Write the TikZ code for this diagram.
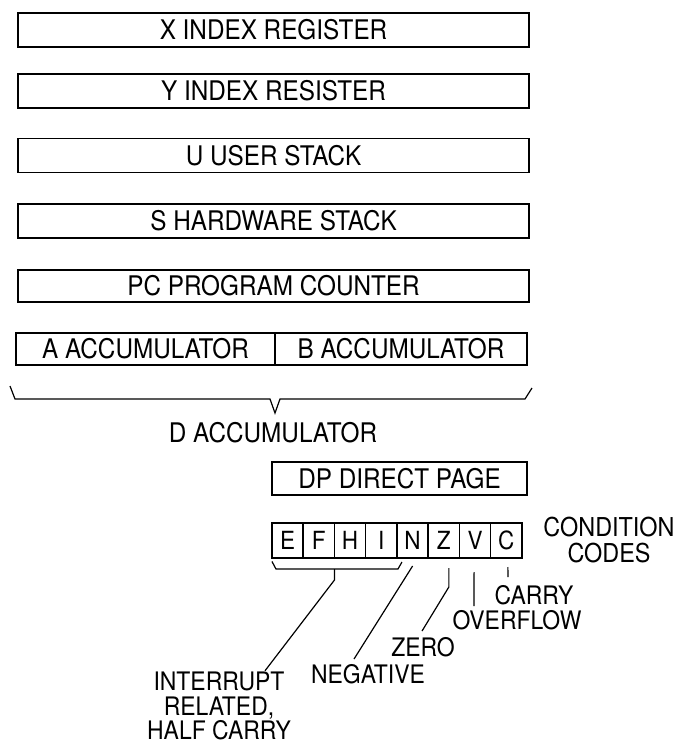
\documentclass[tikz,border=0pt]{standalone}
\usepackage{fontspec}
\setmainfont[FakeStretch=0.9]{TeX Gyre Heros}
\usetikzlibrary{positioning,calc}
\tikzset{
  regbox/.style={draw,line width=1.6pt,minimum height=34pt,inner sep=0pt,outer sep=0pt,
                 font=\fontsize{27}{29}\selectfont},
  bitbox/.style={draw,line width=1.5pt,minimum width=31.25pt,minimum height=35pt,inner sep=0pt,
                 outer sep=0pt,font=\fontsize{25}{27}\selectfont},
  lbl/.style={inner sep=0pt,align=center,font=\fontsize{25.5}{24.5}\selectfont},
  ldr/.style={line width=1.2pt},
}

\begin{document}
\begin{tikzpicture}[x=1pt,y=-1pt]
  \useasboundingbox (0,0) rectangle (679,745);
  % 16-bit registers
  \node[regbox,minimum width=511pt] (xr) at (273.5,30) {X INDEX REGISTER};
  \node[regbox,minimum width=511pt] (yr) at (273.5,91) {Y INDEX RESISTER};
  \node[regbox,minimum width=511pt] (ur) at (273.5,155.5) {U USER STACK};
  \node[regbox,minimum width=511pt] (sr) at (273.5,221) {S HARDWARE STACK};
  \node[regbox,minimum width=511pt,minimum height=32pt] (pc) at (273.5,286) {PC PROGRAM COUNTER};
  \node[regbox,minimum width=259pt,minimum height=32pt] (acca) at (145.5,349) {A ACCUMULATOR};
  \node[regbox,minimum width=252pt,minimum height=32pt,right=0pt of acca] (accb) {B ACCUMULATOR};
  % brace for D
  \draw[ldr] ($(acca.south west)+(-6,21)$) -- ($(acca.south west)+(-1,34)$)
    -- ($(acca.south east)+(-5,34)$) -- ($(acca.south east)+(0,48)$)
    -- ($(acca.south east)+(5,34)$) -- ($(accb.south east)+(-2,34)$)
    -- ($(accb.south east)+(5,23)$);
  \node[lbl,font=\fontsize{27}{29}\selectfont] (dacc) at (273,433) {D ACCUMULATOR};
  % 8-bit registers
  \node[regbox,minimum width=255pt,minimum height=33pt] (dp) at (399.5,478.5) {DP DIRECT PAGE};
  \node[bitbox] (fe) at (287.6,540.5) {E};
  \node[bitbox,right=0pt of fe] (ff) {F};
  \node[bitbox,right=0pt of ff] (fh) {H};
  \node[bitbox,right=0pt of fh] (fi) {I};
  \node[bitbox,right=0pt of fi] (fn) {N};
  \node[bitbox,right=0pt of fn] (fz) {Z};
  \node[bitbox,right=0pt of fz] (fv) {V};
  \node[bitbox,right=0pt of fv] (fc) {C};
  \node[lbl,font=\fontsize{26}{26}\selectfont] (cc) at (609,540.5) {CONDITION\\CODES};
  % flag names
  \node[lbl] (car) at (534,595) {CARRY};
  \node[lbl] (ovf) at (517,620) {OVERFLOW};
  \node[lbl] (zero) at (423,647) {ZERO};
  \node[lbl] (neg) at (368,674) {NEGATIVE};
  \node[lbl] (intr) at (219,706) {INTERRUPT\\RELATED,\\HALF CARRY};
  % leaders
  \coordinate (tip) at ($(fe.south west)!0.5!(fi.south east)+(0,11)$);
  \draw[ldr] ($(fe.south west)+(0,3.5)$) -- ($(fe.south west)+(4,11)$)
    -- ($(fi.south east)+(1,11)$) -- ($(fi.south east)+(5,4)$);
  \draw[ldr] (tip) -- ($(tip)+(0,11)$) -- ([xshift=46pt,yshift=1pt]intr.north);
  \draw[ldr] ($(fn.south)+(0,8)$) -- ([xshift=-14pt,yshift=5pt]neg.north);
  \draw[ldr] ($(fz.south)+(5,10)$) -- ($(fz.south)+(5,29)$) -- ([xshift=-1pt,yshift=6pt]zero.north);
  \draw[ldr] ($(fv.south)+(-1,14)$) -- ([xshift=-43pt,yshift=4pt]ovf.north);
  \draw[ldr] ($(fc.south)+(1.5,9)$) -- ([xshift=-26pt,yshift=8pt]car.north);
\end{tikzpicture}
\end{document}
